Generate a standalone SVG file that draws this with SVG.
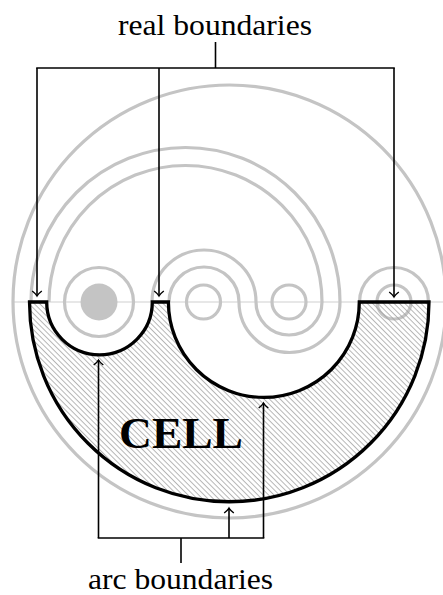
<svg xmlns="http://www.w3.org/2000/svg" width="443" height="595" viewBox="0 0 443 595">
<style>
.g{fill:none;stroke:#c4c4c4;stroke-width:3.2}
.ax{fill:none;stroke:#cfcfcf;stroke-width:1}
.cell{fill:url(#hatch);stroke:#000;stroke-width:3.3;stroke-linejoin:miter}
.c{fill:none;stroke:#000;stroke-width:1.6}
.a{fill:none;stroke:#000;stroke-width:1.6;marker-end:url(#arr)}
.t{font-family:"Liberation Serif","Times New Roman",Times,serif;fill:#000}
</style>
<defs>
<pattern id="hatch" patternUnits="userSpaceOnUse" width="3.8" height="3.8" patternTransform="rotate(45)">
<line x1="0" y1="0.5" x2="3.8" y2="0.5" stroke="#a0a0a0" stroke-width="0.75"/>
</pattern>
<marker id="arr" markerUnits="userSpaceOnUse" viewBox="-7 -7 14 14" markerWidth="14" markerHeight="14" refX="0" refY="0" orient="auto">
<path d="M -5 -4.8 C -3 -2.2 -1.2 -0.6 0 0 C -1.2 0.6 -3 2.2 -5 4.8" fill="none" stroke="#000" stroke-width="1.4"/>
</marker>
</defs>
<rect width="443" height="595" fill="#fff"/>
<g id="background">
<line class="ax" x1="13" y1="302" x2="443" y2="302"/>
<circle class="g" cx="229.5" cy="301.5" r="216.5"/>
</g>
<g id="band">
<path class="g" d="M 31 302 A 154.5 154.5 0 0 1 340 302 A 50.5 50.5 0 0 1 239 302 A 35 35 0 0 0 169 302"/>
<path class="g" d="M 49 302 A 136.5 136.5 0 0 1 322 302 A 33 33 0 0 1 256 302 A 52 52 0 0 0 152 302"/>
</g>
<g id="left-hole">
<circle class="g" cx="99" cy="302" r="34.5"/>
<circle cx="99" cy="302" r="18.5" fill="#c4c4c4"/>
</g>
<g id="hole-2"><circle class="g" cx="203.5" cy="302" r="17"/></g>
<g id="hole-3"><circle class="g" cx="289" cy="302" r="17"/></g>
<g id="right-hole">
<circle class="g" cx="394" cy="302" r="17"/>
<path class="g" d="M 359.5 302 A 34.5 34.5 0 0 1 428.5 302"/>
</g>
<g id="cell">
<path class="cell" d="M 29.5 302 H 46.7 A 52.8 52.8 0 0 0 152.3 302 H 168.4 A 95.45 95.45 0 0 0 359.3 302 H 429 A 199.75 199.75 0 0 1 29.5 302 Z"/>
<text class="t" x="181" y="448" font-size="45" font-weight="bold" text-anchor="middle" textLength="124" lengthAdjust="spacingAndGlyphs">CELL</text>
</g>
<g id="connectors">
<line class="c" x1="215.5" y1="42" x2="215.5" y2="68"/>
<line class="c" x1="36.2" y1="68" x2="394.8" y2="68"/>
<line class="a" x1="37" y1="68" x2="37" y2="296"/>
<line class="a" x1="159" y1="68" x2="159" y2="296"/>
<line class="a" x1="394" y1="68" x2="394" y2="297"/>
<line class="c" x1="181" y1="563" x2="181" y2="538"/>
<line class="c" x1="97.7" y1="538" x2="264.3" y2="538"/>
<line class="a" x1="98.5" y1="538" x2="98.5" y2="360"/>
<line class="a" x1="263.5" y1="538" x2="263.5" y2="403"/>
<line class="a" x1="229" y1="538" x2="229" y2="508"/>
</g>
<g id="labels">
<text class="t" x="215" y="35" font-size="30" text-anchor="middle" textLength="194" lengthAdjust="spacingAndGlyphs">real boundaries</text>
<text class="t" x="180.5" y="589" font-size="30" text-anchor="middle" textLength="185" lengthAdjust="spacingAndGlyphs">arc boundaries</text>
</g>
</svg>
